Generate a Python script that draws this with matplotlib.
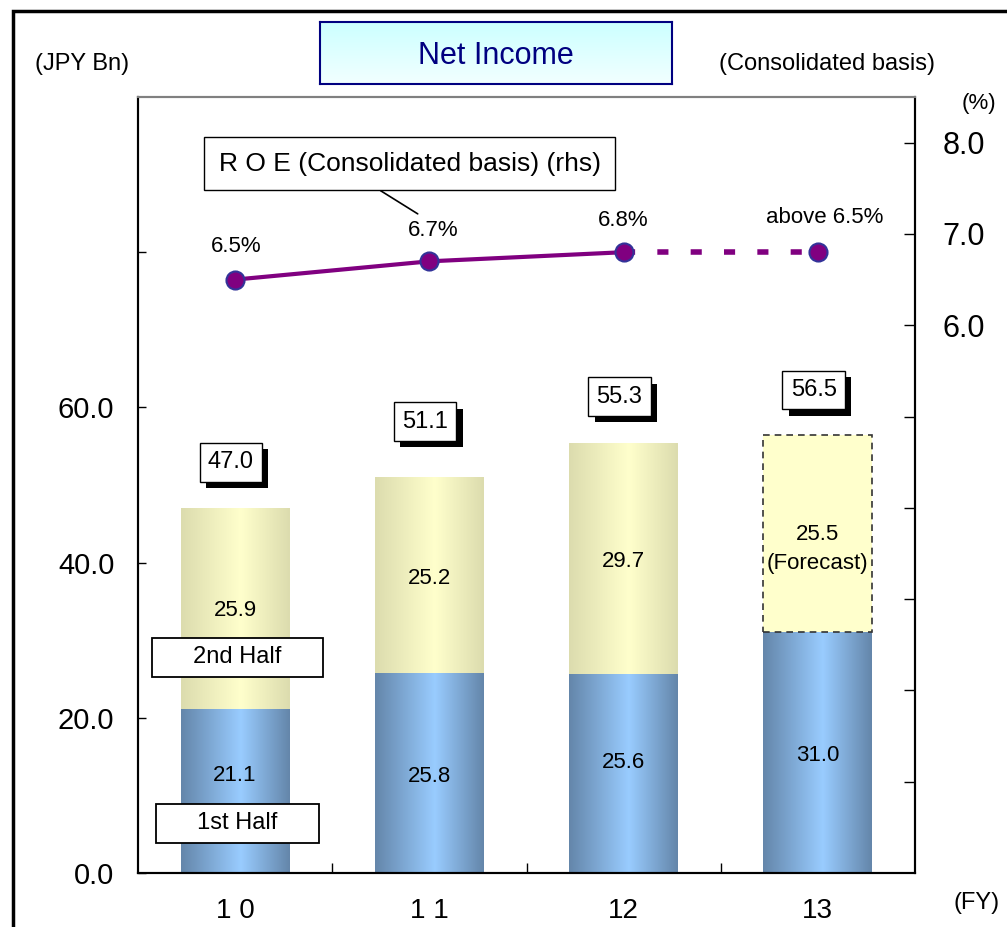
import matplotlib.pyplot as plt
import matplotlib.patheffects as pe
import numpy as np
from matplotlib.colors import LinearSegmentedColormap
from matplotlib.patches import Rectangle

plt.rcParams['font.family'] = ['Liberation Sans', 'DejaVu Sans']

# Net income by fiscal year (JPY Bn), split by half
years = ['1 0', '1 1', '12', '13']
first_half = [21.1, 25.8, 25.6, 31.0]
second_half = [25.9, 25.2, 29.7, 25.5]
totals = [47.0, 51.1, 55.3, 56.5]
forecast = [False, False, False, True]

# ROE (%), right axis
roe = [6.5, 6.7, 6.8, 6.8]
roe_labels = ['6.5%', '6.7%', '6.8%', 'above 6.5%']

blue_cmap = LinearSegmentedColormap.from_list(
    'blue', [(0, '#6486aa'), (0.55, '#99ccff'), (1, '#6486aa')])
yellow_cmap = LinearSegmentedColormap.from_list(
    'yellow', [(0, '#dcdcae'), (0.55, '#ffffcc'), (1, '#dcdcae')])

fig = plt.figure(figsize=(10.07, 9.27), dpi=100)
ax = fig.add_axes([138 / 1007, 54 / 927, 777 / 1007, 776 / 927])
ax2 = ax.twinx()

x = np.arange(len(years))
width = 0.56
grad = np.linspace(0, 1, 256).reshape(1, -1)

# small nudges for the in-bar value labels (data units)
lower_nudge = [2.0, -0.4, 1.4, -0.4]
upper_nudge = [-0.2, -0.4, -0.3, -2.0]
total_offset = [33, 40, 34, 32]


def gradient_bar(xc, bottom, height, cmap):
    ax.imshow(grad, cmap=cmap, aspect='auto', interpolation='bicubic',
              extent=(xc - width / 2, xc + width / 2, bottom, bottom + height),
              zorder=2)


for i in x:
    gradient_bar(i, 0, first_half[i], blue_cmap)
    ymid = first_half[i] + second_half[i] / 2 + upper_nudge[i]
    if forecast[i]:
        ax.add_patch(Rectangle((i - width / 2, first_half[i]), width, second_half[i],
                               facecolor='#ffffcc', edgecolor='#333333',
                               linestyle=(0, (4, 3)), linewidth=1.2, zorder=2))
        ax.text(i, ymid, f'{second_half[i]:.1f}\n(Forecast)',
                ha='center', va='center', fontsize=16, linespacing=1.45, zorder=4)
    else:
        gradient_bar(i, first_half[i], second_half[i], yellow_cmap)
        ax.text(i, ymid, f'{second_half[i]:.1f}', ha='center', va='center',
                fontsize=16, zorder=4)
    ax.text(i, first_half[i] / 2 + lower_nudge[i], f'{first_half[i]:.1f}',
            ha='center', va='center', fontsize=16, zorder=4)
    # total label in a box with a drop shadow
    ytot = first_half[i] + second_half[i]
    t = ax.annotate(f'{totals[i]:.1f}', (i, ytot), xytext=(-3, total_offset[i]),
                    textcoords='offset points', ha='center', va='center', fontsize=17,
                    zorder=6,
                    bbox=dict(boxstyle='square,pad=0.35', facecolor='white',
                              edgecolor='black', linewidth=1))
    t.get_bbox_patch().set_path_effects([
        pe.SimplePatchShadow(offset=(4.5, -4.5), shadow_rgbFace='black', alpha=1),
        pe.Normal()])

ax.set_xlim(-0.5, 3.5)
ax.set_ylim(0, 100)
ax.set_yticks([0, 20, 40, 60, 80])
ax.set_yticklabels(['0.0', '20.0', '40.0', '60.0', ''], fontsize=21)
ax.set_xticks(x)
ax.set_xticklabels(years, fontsize=20)
ax.set_xticks([0.5, 1.5, 2.5], minor=True)
ax.tick_params(axis='x', which='major', length=0, pad=18)
ax.tick_params(axis='x', which='minor', direction='in', length=7, width=1)
ax.tick_params(axis='y', direction='in', length=6, width=1, pad=17)

# ROE line: actuals solid, forecast dashed
ax2.plot(x[:3], roe[:3], color='#800080', linewidth=3, zorder=3)
ax2.plot(x[2:], roe[2:], color='#800080', linewidth=4, linestyle=(0, (2, 4)), zorder=3)
ax2.plot(x, roe, linestyle='none', marker='o', markersize=13, markerfacecolor='#800080',
         markeredgecolor='#333399', markeredgewidth=1.5, zorder=4)
label_offsets = [(1, 24), (3, 22), (0, 23), (5, 25)]
for i in x:
    ax2.annotate(roe_labels[i], (i, roe[i]), xytext=label_offsets[i],
                 textcoords='offset points', ha='center', va='center', fontsize=16)
ax2.set_ylim(0, 8.5)
ax2.set_yticks(np.arange(1, 9))
ax2.set_yticklabels(['', '', '', '', '', '6.0', '7.0', '8.0'], fontsize=22)
ax2.tick_params(axis='y', direction='in', length=8, width=1, pad=20)

for a in (ax, ax2):
    a.spines['top'].set_color('#808080')
    a.spines['left'].set_color('black')
    a.spines['right'].set_color('black')
    a.spines['bottom'].set_color('black')
    for s in a.spines.values():
        s.set_linewidth(1.5)

# ROE callout box and leader line
ax2.annotate('R O E (Consolidated basis) (rhs)', xy=(0.94, 7.22), xytext=(0.90, 7.77),
             ha='center', va='center', fontsize=19, zorder=6,
             bbox=dict(boxstyle='square,pad=0.55', facecolor='white', edgecolor='black',
                       linewidth=1),
             arrowprops=dict(arrowstyle='-', color='black', linewidth=1.2,
                             shrinkA=0, shrinkB=0, relpos=(0.36, 0)))

# half labels
for txt, yv in [('2nd Half', 27.8), ('1st Half', 6.4)]:
    ax.text(0.01, yv, '     ' + txt + '     ', ha='center', va='center', fontsize=17,
            zorder=6,
            bbox=dict(boxstyle='square,pad=0.35', facecolor='white', edgecolor='black',
                      linewidth=1.3))

# title panel with vertical gradient
tax = fig.add_axes([320 / 1007, (927 - 84) / 927, 352 / 1007, 62 / 927])
tax.imshow(np.linspace(0, 1, 64).reshape(-1, 1),
           cmap=LinearSegmentedColormap.from_list('t', ['#ccffff', '#f2ffff']),
           aspect='auto', extent=(0, 1, 0, 1))
tax.set_xticks([])
tax.set_yticks([])
for s in tax.spines.values():
    s.set_color('#000080')
    s.set_linewidth(1.5)
tax.text(0.5, 0.45, 'Net Income', ha='center', va='center', fontsize=22, color='#000080',
         transform=tax.transAxes)

fig.text(82 / 1007, 1 - 64 / 927, '(JPY Bn)', ha='center', va='center', fontsize=17)
fig.text(827 / 1007, 1 - 64 / 927, '(Consolidated basis)', ha='center', va='center',
         fontsize=17)
fig.text(979 / 1007, 1 - 103 / 927, '(%)', ha='center', va='center', fontsize=16)
fig.text(977 / 1007, 1 - 903 / 927, '(FY)', ha='center', va='center', fontsize=17)

# outer frame
fig.add_artist(Rectangle((13 / 1007, -0.1), 1.2, 1.1 - 11 / 927, fill=False,
                         edgecolor='black', linewidth=2.5, transform=fig.transFigure))

fig.savefig('out.png', dpi=100)
